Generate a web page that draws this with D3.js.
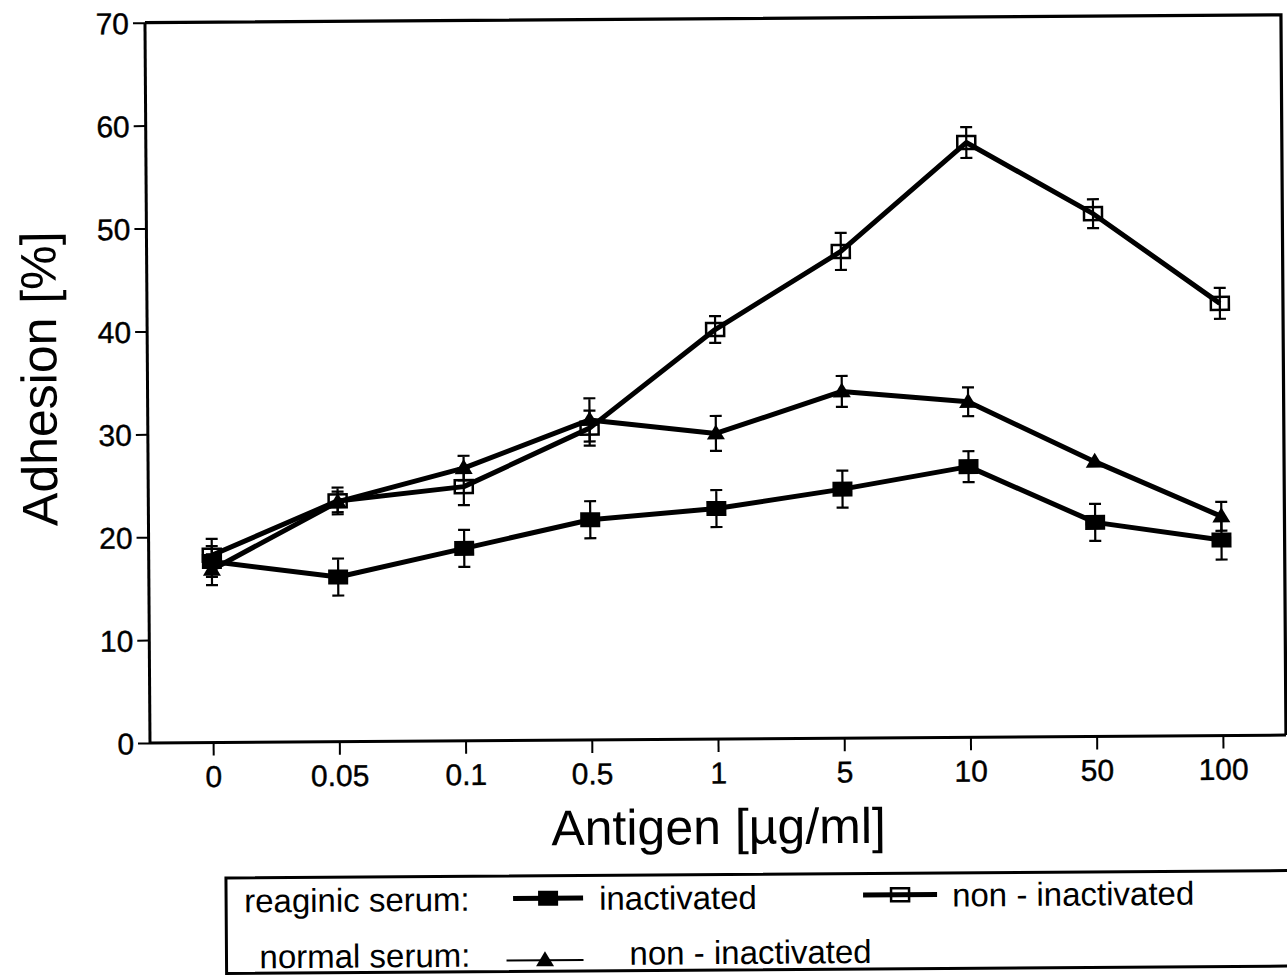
<!DOCTYPE html>
<html>
<head>
<meta charset="utf-8">
<script src="https://cdn.jsdelivr.net/npm/d3@7"></script>
<style>
  html, body { margin: 0; padding: 0; background: #fff; }
  svg { display: block; }
  text { font-family: "Liberation Sans", Arial, Helvetica, sans-serif; fill: #000; }
</style>
</head>
<body>
<svg id="chart" width="1287" height="975"></svg>
<script>
// Antigen concentrations [µg/ml] shown as equally spaced categories
const categories = ["0", "0.05", "0.1", "0.5", "1", "5", "10", "50", "100"];

// Adhesion [%] — reaginic serum, inactivated (filled squares)
const reaginicInactivated    = [17.6, 16.0, 18.7, 21.4, 22.4, 24.2, 26.3, 20.8, 19.0];
const reaginicInactivatedErr = [1.5, 1.8, 1.8, 1.8, 1.8, 1.8, 1.5, 1.8, 1.9];

// Adhesion [%] — reaginic serum, non-inactivated (open squares)
const reaginicNonInact    = [18.2, 23.4, 24.7, 30.3, 39.8, 47.3, 57.8, 50.8, 42.0];
const reaginicNonInactErr = [1.6, 1.3, 1.8, 1.7, 1.3, 1.8, 1.5, 1.4, 1.5];

// Adhesion [%] — normal serum, non-inactivated (filled triangles)
const normalNonInact    = [16.8, 23.3, 26.5, 31.1, 29.7, 33.7, 32.6, 26.7, 21.3];
const normalNonInactErr = [1.5, 1.0, 1.2, 2.1, 1.7, 1.5, 1.4, 0, 1.4];

const yTicks = [0, 10, 20, 30, 40, 50, 60, 70];

const svg = d3.select("#chart");

// plot frame
const frameLeft = 150, frameRight = 1286, frameTop = 22.7, frameBottom = 743;

// the whole figure sits at a very slight tilt
const root = svg.append("g").attr("transform", `rotate(-0.4, ${frameLeft}, ${frameBottom})`);

const x = d3.scalePoint().domain(categories).range([frameLeft, frameRight]).padding(0.5);
const y = d3.scaleLinear().domain([0, 70]).range([frameBottom, frameTop]);

// frame (top and right sides)
root.append("path")
  .attr("d", `M${frameLeft},${frameTop}H${frameRight}V${frameBottom}`)
  .attr("fill", "none").attr("stroke", "#000").attr("stroke-width", 3.2);

// y axis
const yAxis = root.append("g")
  .attr("transform", `translate(${frameLeft},0)`)
  .call(d3.axisLeft(y).tickValues(yTicks).tickSize(12).tickPadding(4).tickFormat(d3.format("d")));
yAxis.select(".domain").attr("stroke-width", 3).attr("d", `M0,${frameTop}V${frameBottom}`);
yAxis.selectAll(".tick line").attr("stroke-width", 2);
yAxis.selectAll(".tick text").attr("font-size", 30).attr("dy", "0.36em")
  .attr("stroke", "#000").attr("stroke-width", 0.4)
  .style("font-family", "Liberation Sans, Arial, sans-serif");

// x axis
const xAxis = root.append("g")
  .attr("transform", `translate(0,${frameBottom})`)
  .call(d3.axisBottom(x).tickSize(13).tickPadding(10));
xAxis.select(".domain").attr("stroke-width", 3).attr("d", `M${frameLeft},0H${frameRight}`);
xAxis.selectAll(".tick line").attr("stroke-width", 2);
xAxis.selectAll(".tick text").attr("font-size", 30).attr("dy", "0.71em")
  .attr("stroke", "#000").attr("stroke-width", 0.4)
  .style("font-family", "Liberation Sans, Arial, sans-serif");

// axis titles
root.append("text")
  .attr("x", (frameLeft + frameRight) / 2).attr("y", 848)
  .attr("text-anchor", "middle").attr("font-size", 50)
  .text("Antigen [µg/ml]");

root.append("text")
  .attr("transform", `translate(59,378) rotate(-90)`)
  .attr("text-anchor", "middle").attr("font-size", 50)
  .text("Adhesion [%]");

// series
const series = [
  { values: reaginicNonInact, err: reaginicNonInactErr, marker: "open" },
  { values: normalNonInact, err: normalNonInactErr, marker: "triangle" },
  { values: reaginicInactivated, err: reaginicInactivatedErr, marker: "filled" }
];

const line = d3.line().x((d, i) => x(categories[i])).y(d => y(d));
const plot = root.append("g");

series.forEach(s => {
  plot.append("path")
    .datum(s.values)
    .attr("d", line)
    .attr("fill", "none").attr("stroke", "#000")
    .attr("stroke-width", 5).attr("stroke-linejoin", "round");
});

// error bars
series.forEach(s => {
  const g = plot.append("g");
  s.values.forEach((v, i) => {
    if (!s.err[i]) return;
    const cx = x(categories[i]);
    const y0 = y(v - s.err[i]), y1 = y(v + s.err[i]);
    g.append("path")
      .attr("d", `M${cx},${y0}V${y1}M${cx - 6},${y0}H${cx + 6}M${cx - 6},${y1}H${cx + 6}`)
      .attr("fill", "none").attr("stroke", "#000").attr("stroke-width", 2.2);
  });
});

// markers
function drawMarker(g, type, cx, cy) {
  if (type === "filled") {
    g.append("rect").attr("x", cx - 10).attr("y", cy - 7.5)
      .attr("width", 20).attr("height", 15).attr("fill", "#000");
  } else if (type === "open") {
    g.append("rect").attr("x", cx - 9).attr("y", cy - 6.5)
      .attr("width", 18).attr("height", 13)
      .attr("fill", "none").attr("stroke", "#000").attr("stroke-width", 2.5);
  } else {
    g.append("path")
      .attr("d", `M${cx},${cy - 9}L${cx + 9},${cy + 6}L${cx - 9},${cy + 6}Z`)
      .attr("fill", "#000");
  }
}

series.forEach(s => {
  const g = plot.append("g");
  s.values.forEach((v, i) => drawMarker(g, s.marker, x(categories[i]), y(v)));
});

// legend
const legend = root.append("g");
legend.append("path")
  .attr("d", `M1300,878.5H225V974H1300`)
  .attr("fill", "none").attr("stroke", "#000").attr("stroke-width", 3);

const legendFont = 33;
function legendText(tx, ty, str) {
  legend.append("text").attr("x", tx).attr("y", ty).attr("font-size", legendFont).text(str);
}
function legendSample(x0, x1, cy, type, width) {
  legend.append("path").attr("d", `M${x0},${cy}H${x1}`)
    .attr("stroke", "#000").attr("stroke-width", width);
  drawMarker(legend, type, (x0 + x1) / 2, cy);
}

legendText(243, 913, "reaginic serum:");
legendSample(512, 582, 901, "filled", 5);
legendText(598, 913, "inactivated");
legendSample(862, 936, 900, "open", 5);
legendText(951, 912, "non - inactivated");

legendText(258, 969, "normal serum:");
legendSample(505, 582, 963, "triangle", 2);
legendText(628, 968, "non - inactivated");
</script>
</body>
</html>
